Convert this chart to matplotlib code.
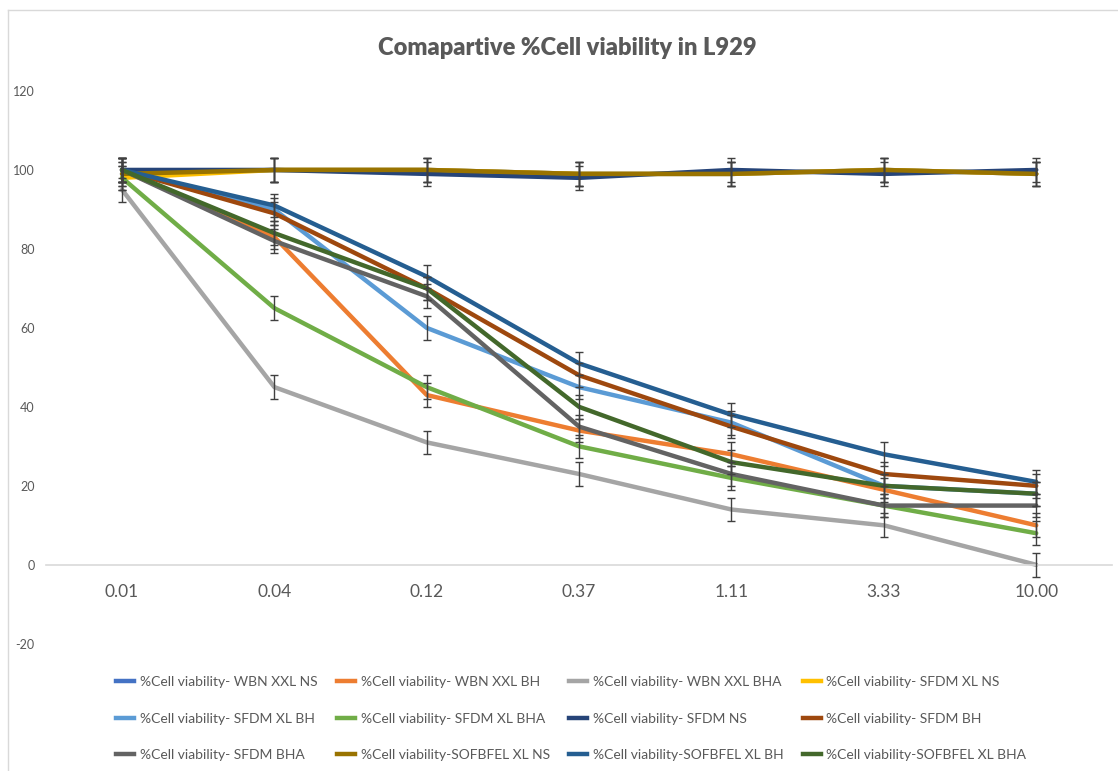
import matplotlib
matplotlib.use('Agg')
import matplotlib.pyplot as plt
from matplotlib.lines import Line2D

plt.rcParams['font.family'] = ['Lato', 'DejaVu Sans']
plt.rcParams['axes.unicode_minus'] = False

doses = ['0.01', '0.04', '0.12', '0.37', '1.11', '3.33', '10.00']

names = ['%Cell viability- WBN XXL NS', '%Cell viability- WBN XXL BH', '%Cell viability- WBN XXL BHA',
         '%Cell viability- SFDM XL NS', '%Cell viability- SFDM XL BH', '%Cell viability- SFDM XL BHA',
         '%Cell viability- SFDM NS', '%Cell viability- SFDM BH', '%Cell viability- SFDM BHA',
         '%Cell viability-SOFBFEL XL NS', '%Cell viability-SOFBFEL XL BH', '%Cell viability-SOFBFEL XL BHA']

wbn_xxl_ns = [99, 100, 100, 99, 99, 100, 99]
wbn_xxl_bh = [100, 83, 43, 34, 28, 19, 10]
wbn_xxl_bha = [95, 45, 31, 23, 14, 10, 0]
sfdm_xl_ns = [98, 100, 100, 99, 99, 100, 99]
sfdm_xl_bh = [100, 90, 60, 45, 36, 20, 18]
sfdm_xl_bha = [98, 65, 45, 30, 22, 15, 8]
sfdm_ns = [100, 100, 99, 98, 100, 99, 100]
sfdm_bh = [100, 89, 70, 48, 35, 23, 20]
sfdm_bha = [100, 82, 68, 35, 23, 15, 15]
sofbfel_xl_ns = [99, 100, 100, 99, 99, 100, 99]
sofbfel_xl_bh = [100, 91, 73, 51, 38, 28, 21]
sofbfel_xl_bha = [100, 84, 70, 40, 26, 20, 18]

err = 3  # same +/- error on every point

series = [wbn_xxl_ns, wbn_xxl_bh, wbn_xxl_bha, sfdm_xl_ns, sfdm_xl_bh, sfdm_xl_bha,
          sfdm_ns, sfdm_bh, sfdm_bha, sofbfel_xl_ns, sofbfel_xl_bh, sofbfel_xl_bha]
colors = ['#4472C4', '#ED7D31', '#A5A5A5', '#FFC000', '#5B9BD5', '#70AD47',
          '#264478', '#9E480E', '#636363', '#997300', '#255E91', '#43682B']

fig = plt.figure(figsize=(11.18, 7.71), dpi=100)
ax = fig.add_axes([0.041, 0.165, 0.954, 0.717])

x = list(range(len(doses)))
for vals, col in zip(series, colors):
    ax.plot(x, vals, color=col, lw=3.2, solid_capstyle='round', zorder=2)
for vals in series:
    ax.errorbar(x, vals, yerr=err, fmt='none', ecolor='#404040', elinewidth=1,
                capsize=3, capthick=1, zorder=3)

ax.set_xlim(-0.5, len(doses) - 0.5)
ax.set_ylim(-20, 120)
ax.set_yticks(range(-20, 121, 20))
ax.set_xticks(x)
ax.set_xticklabels(doses)

for s in ['top', 'right', 'left']:
    ax.spines[s].set_visible(False)
ax.spines['bottom'].set_position(('data', 0))
ax.spines['bottom'].set_color('#d9d9d9')
ax.spines['bottom'].set_linewidth(1.2)
ax.tick_params(axis='x', length=0, pad=14, labelsize=12.5, labelcolor='#595959')
ax.tick_params(axis='y', length=0, pad=8, labelsize=9, labelcolor='#595959')

fig.text(0.507, 0.938, 'Comapartive %Cell viability in L929', ha='center', va='center',
         fontsize=17, fontweight='heavy', color='#595959')

# legend filled row by row like Excel
handles = [Line2D([0], [0], color=c, lw=3.2) for c in colors]
order = [0, 4, 8, 1, 5, 9, 2, 6, 10, 3, 7, 11]
fig.legend([handles[i] for i in order], [names[i] for i in order], ncol=4,
           loc='center', bbox_to_anchor=(0.511, 0.068), frameon=False,
           fontsize=10, labelcolor='#595959', handlelength=1.3, handletextpad=0.4,
           labelspacing=1.78, columnspacing=1.4)

# chart area border (left and top edges visible)
fig.add_artist(Line2D([0.007, 0.007], [0, 0.987], color='#d9d9d9', lw=1))
fig.add_artist(Line2D([0.007, 1.0], [0.987, 0.987], color='#d9d9d9', lw=1))

plt.savefig('out.png', dpi=100)
